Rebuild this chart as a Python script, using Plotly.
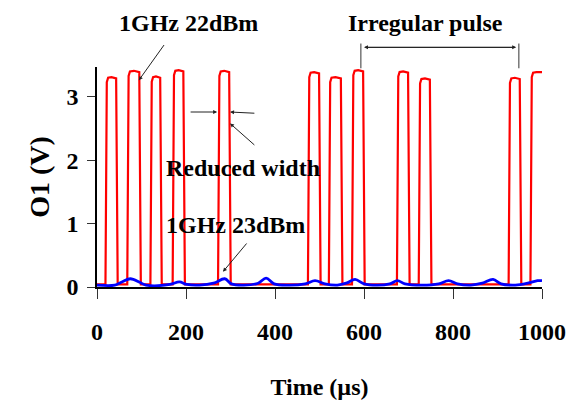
import plotly.graph_objects as go

# Red trace (1 GHz, 22 dBm): pulse edges in µs and plateau levels in V
pulse_rise = [20, 69, 121, 171, 273, 475, 522, 574, 675, 724, 926, 975]
pulse_fall = [45, 97, 144, 196, 299, 501, 550, 600, 701, 750, 952, 1000]
pulse_top = [3.31, 3.41, 3.32, 3.42, 3.41, 3.39, 3.31, 3.42, 3.40, 3.29, 3.30, 3.39]
red_base = 0.04

# Blue trace (1 GHz, 23 dBm): low-level response, time (µs) and voltage (V)
blue_t = [0, 40, 56, 75, 97, 110, 164, 185, 202, 230, 262, 287, 302, 330,
          362, 380, 398, 430, 468, 490, 512, 540, 560, 580, 600, 630, 658,
          675, 692, 730, 768, 790, 810, 840, 866, 890, 908, 940, 968, 990, 1000]
blue_v = [0.03, 0.03, 0.08, 0.13, 0.07, 0.03, 0.04, 0.08, 0.04, 0.03, 0.06,
          0.13, 0.05, 0.03, 0.06, 0.14, 0.05, 0.03, 0.05, 0.10, 0.05, 0.03,
          0.06, 0.12, 0.05, 0.03, 0.05, 0.10, 0.05, 0.03, 0.05, 0.10, 0.05,
          0.03, 0.06, 0.12, 0.05, 0.03, 0.06, 0.10, 0.10]

x_ticks = [0, 200, 400, 600, 800, 1000]
y_ticks = [0, 1, 2, 3]
Y_MAX = 3.47

# Build the red pulse train polyline from the edge list
red_t, red_v = [0], [red_base]
for r, f, top in zip(pulse_rise, pulse_fall, pulse_top):
    red_t += [r - 1, r + 2, r + 5, (r + f) / 2]
    red_v += [red_base, top - 0.08, top - 0.01, top]
    if f < 1000:
        red_t += [f - 2, f + 1.5]
        red_v += [top - 0.02, red_base]
    else:
        red_t += [f]
        red_v += [top]


def yd(v):
    """Volts -> fraction of the y domain (works above the axis range too)."""
    return v / Y_MAX


FONT = "Liberation Serif"

fig = go.Figure()
fig.add_trace(go.Scatter(x=red_t, y=red_v, mode="lines",
                         line=dict(color="#ff0000", width=2.2), showlegend=False))
fig.add_trace(go.Scatter(x=blue_t, y=blue_v, mode="lines", line_shape="spline",
                         line=dict(color="#0000ff", width=2.8), showlegend=False))

arrow = dict(showarrow=True, arrowhead=2, arrowsize=0.8, arrowwidth=1,
             arrowcolor="#222222", xref="x", yref="y domain",
             axref="x", ayref="y domain", text="")

# Text labels
labels = [("1GHz 22dBm", 206, 4.17), ("Irregular pulse", 738, 4.17),
          ("Reduced width", 328, 1.87), ("1GHz 23dBm", 312, 0.98)]
for txt, x, y in labels:
    fig.add_annotation(x=x, y=yd(y), xref="x", yref="y domain", text=txt,
                       showarrow=False, xanchor="center", yanchor="middle",
                       font=dict(family=FONT, size=24, color="black", weight="bold"))

# Pointer arrows
fig.add_annotation(x=94, y=yd(3.26), ax=153, ay=yd(3.84), **arrow)
fig.add_annotation(x=270, y=yd(2.76), ax=207, ay=yd(2.76), **arrow)
fig.add_annotation(x=299, y=yd(2.76), ax=357, ay=yd(2.74), **arrow)
fig.add_annotation(x=299, y=yd(2.58), ax=357, ay=yd(2.22), **arrow)
fig.add_annotation(x=283, y=yd(0.24), ax=339, ay=yd(0.71), **arrow)
# Double-headed span arrow for the irregular pulse interval
fig.add_annotation(x=942, y=yd(3.78), ax=600, ay=yd(3.78), **arrow)
fig.add_annotation(x=600, y=yd(3.78), ax=942, ay=yd(3.78), **arrow)

# Bracket ends
for xb in (593, 948):
    fig.add_shape(type="line", x0=xb, x1=xb, y0=yd(3.45), y1=yd(3.84),
                  xref="x", yref="y domain",
                  line=dict(color="#333333", width=1))

fig.update_layout(
    width=568, height=400,
    margin=dict(l=97, r=26, t=67, b=113),
    plot_bgcolor="white", paper_bgcolor="white",
    font=dict(family=FONT, size=24, color="black", weight="bold"),
)
fig.update_xaxes(
    range=[0, 1000], tickvals=x_ticks, ticks="outside", ticklen=10, tickwidth=1,
    tickcolor="#333333", showline=True, linecolor="black", linewidth=1.5,
    showgrid=False, zeroline=False, ticklabelstandoff=12, automargin=False,
    title=dict(text="Time (µs)", standoff=35, font=dict(size=24)),
)
fig.update_yaxes(
    range=[0, Y_MAX], tickvals=y_ticks, ticks="outside", ticklen=8, tickwidth=1,
    tickcolor="#333333", showline=True, linecolor="black", linewidth=1.5,
    showgrid=False, zeroline=False, ticklabelstandoff=4, automargin=False,
    title=dict(text="O1 (V)", standoff=9, font=dict(size=28)),
)

fig.write_html("out.html")
